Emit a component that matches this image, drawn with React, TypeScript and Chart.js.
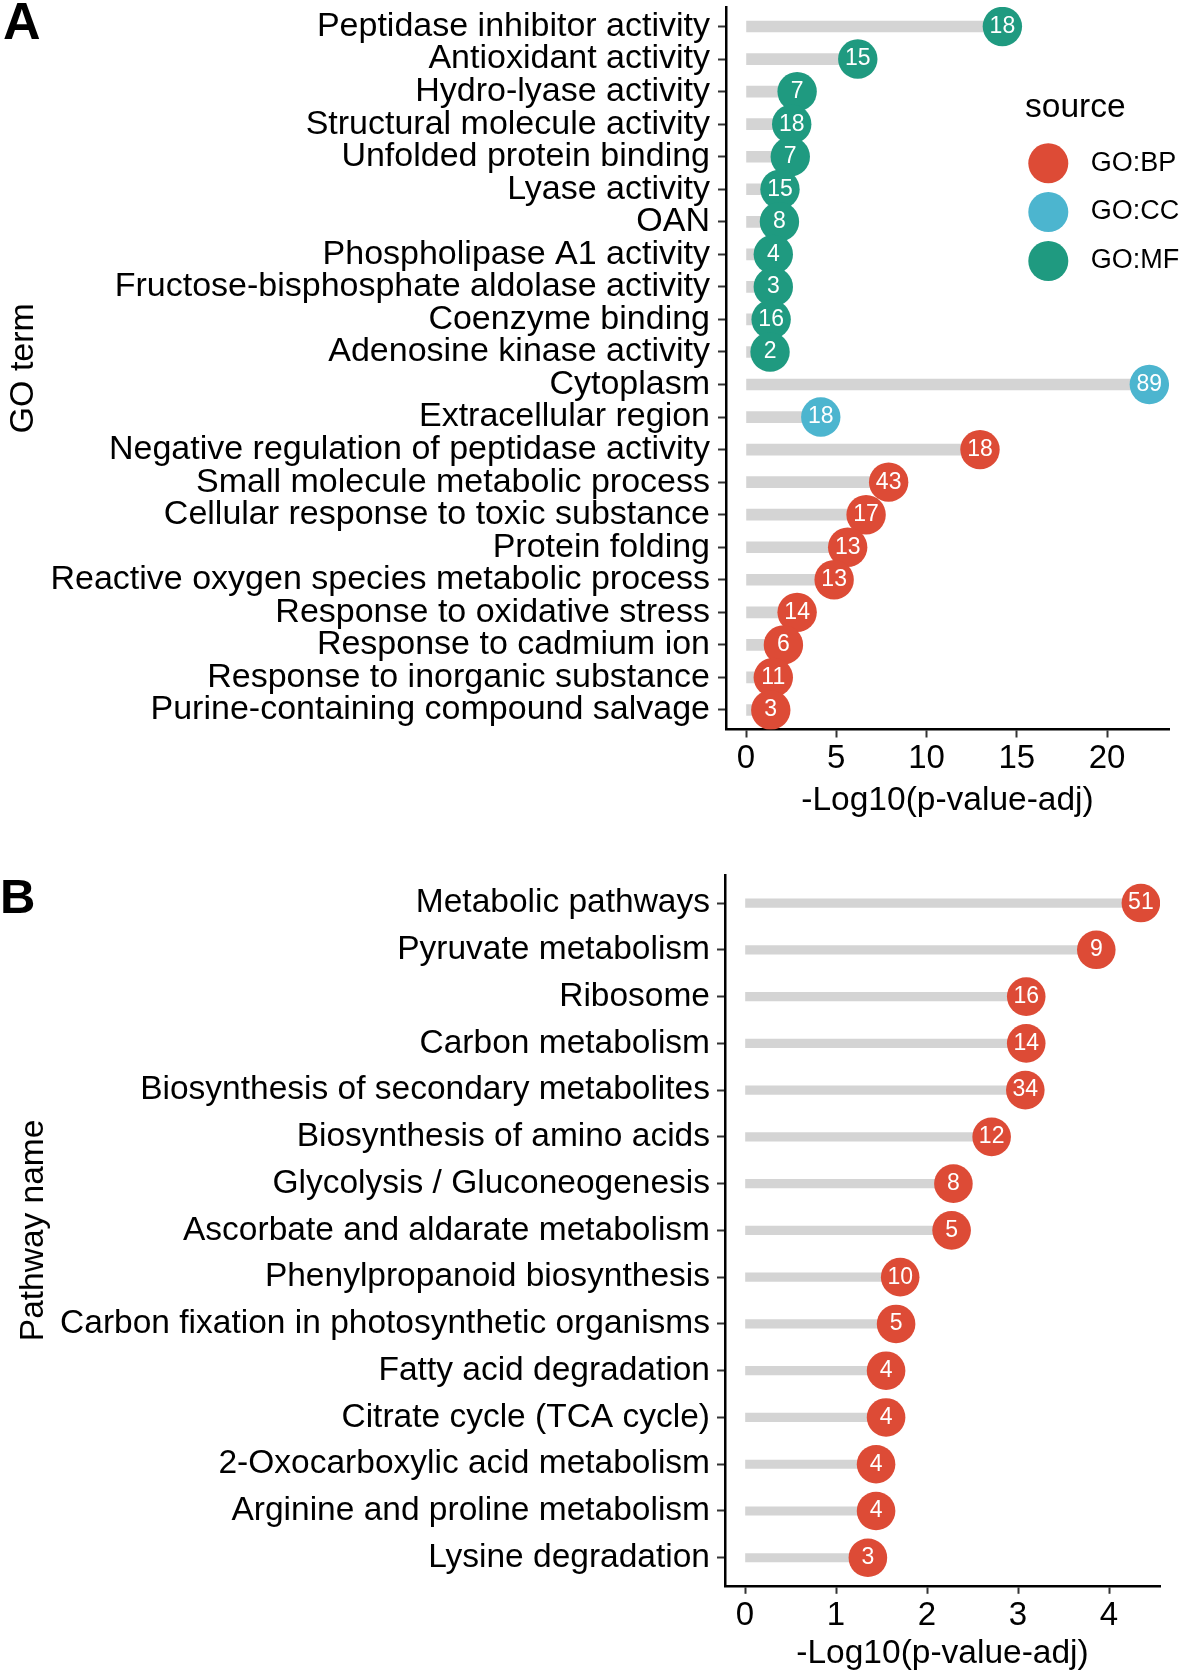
import React, { useEffect, useRef } from "react";
import { Chart, registerables } from "chart.js";

Chart.register(...registerables);

const FONT = '"Liberation Sans", Arial, Helvetica, sans-serif';

// ---------- Panel A: GO terms ----------
const goTerms = [
  "Peptidase inhibitor activity",
  "Antioxidant activity",
  "Hydro-lyase activity",
  "Structural molecule activity",
  "Unfolded protein binding",
  "Lyase activity",
  "OAN",
  "Phospholipase A1 activity",
  "Fructose-bisphosphate aldolase activity",
  "Coenzyme binding",
  "Adenosine kinase activity",
  "Cytoplasm",
  "Extracellular region",
  "Negative regulation of peptidase activity",
  "Small molecule metabolic process",
  "Cellular response to toxic substance",
  "Protein folding",
  "Reactive oxygen species metabolic process",
  "Response to oxidative stress",
  "Response to cadmium ion",
  "Response to inorganic substance",
  "Purine-containing compound salvage",
];
const goValues = [
  14.2, 6.19, 2.83, 2.53, 2.45, 1.88, 1.85, 1.51, 1.51, 1.39, 1.33,
  22.34, 4.14,
  12.96, 7.9, 6.65, 5.63, 4.88, 2.83, 2.07, 1.51, 1.37,
];
const goCounts = [18, 15, 7, 18, 7, 15, 8, 4, 3, 16, 2, 89, 18, 18, 43, 17, 13, 13, 14, 6, 11, 3];
const goSources = [
  "GO:MF", "GO:MF", "GO:MF", "GO:MF", "GO:MF", "GO:MF", "GO:MF", "GO:MF", "GO:MF", "GO:MF", "GO:MF",
  "GO:CC", "GO:CC",
  "GO:BP", "GO:BP", "GO:BP", "GO:BP", "GO:BP", "GO:BP", "GO:BP", "GO:BP", "GO:BP",
];
const goXTicks = [0, 5, 10, 15, 20];

// ---------- Panel B: KEGG pathways ----------
const pathwayNames = [
  "Metabolic pathways",
  "Pyruvate metabolism",
  "Ribosome",
  "Carbon metabolism",
  "Biosynthesis of secondary metabolites",
  "Biosynthesis of amino acids",
  "Glycolysis / Gluconeogenesis",
  "Ascorbate and aldarate metabolism",
  "Phenylpropanoid biosynthesis",
  "Carbon fixation in photosynthetic organisms",
  "Fatty acid degradation",
  "Citrate cycle (TCA cycle)",
  "2-Oxocarboxylic acid metabolism",
  "Arginine and proline metabolism",
  "Lysine degradation",
];
const pathwayValues = [4.35, 3.86, 3.09, 3.09, 3.08, 2.71, 2.29, 2.27, 1.705, 1.66, 1.55, 1.55, 1.44, 1.44, 1.35];
const pathwayCounts = [51, 9, 16, 14, 34, 12, 8, 5, 10, 5, 4, 4, 4, 4, 3];
const pathwaySources = pathwayNames.map(() => "GO:BP");
const pathwayXTicks = [0, 1, 2, 3, 4];

const sourceNames = ["GO:BP", "GO:CC", "GO:MF"];
const sourceColors: Record<string, string> = {
  "GO:BP": "#DD4B36",
  "GO:CC": "#4CB5CF",
  "GO:MF": "#1F9A80",
};

const xTitle = "-Log10(p-value-adj)";

type PanelSpec = {
  top: number;
  height: number;
  names: string[];
  values: number[];
  counts: number[];
  sources: string[];
  xTicks: number[];
  xMin: number;
  xMax: number;
  yTitle: string;
  yTitlePad: number;
  xTitlePad: number;
  pad: { top: number; right: number; left: number; bottom: number };
  yWidth: number;
  xHeight: number;
  yTickPad: number;
  yFont: number;
  segThickness: number;
  radius: number;
  letter: string;
  letterSize: number;
  letterX: number;
  letterY: number;
  legend: boolean;
};

const panelA: PanelSpec = {
  top: 0,
  height: 822,
  names: goTerms,
  values: goValues,
  counts: goCounts,
  sources: goSources,
  xTicks: goXTicks,
  xMin: -1.11,
  xMax: 23.43,
  yTitle: "GO term",
  yTitlePad: 3,
  xTitlePad: 1,
  pad: { top: 7, right: 11, left: 0, bottom: 0 },
  yWidth: 726,
  xHeight: 92.5,
  yTickPad: 8,
  yFont: 34,
  segThickness: 11,
  radius: 19.7,
  letter: "A",
  letterSize: 52,
  letterX: 3,
  letterY: 39,
  legend: true,
};

const panelB: PanelSpec = {
  top: 822,
  height: 852,
  names: pathwayNames,
  values: pathwayValues,
  counts: pathwayCounts,
  sources: pathwaySources,
  xTicks: pathwayXTicks,
  xMin: -0.22,
  xMax: 4.56,
  yTitle: "Pathway name",
  yTitlePad: 14,
  xTitlePad: 0,
  pad: { top: 53, right: 20, left: 0, bottom: 0 },
  yWidth: 725,
  xHeight: 88.2,
  yTickPad: 7,
  yFont: 33.5,
  segThickness: 8.5,
  radius: 19.3,
  letter: "B",
  letterSize: 49,
  letterX: 0,
  letterY: 91,
  legend: false,
};

const lollipopLabels = {
  id: "lollipopLabels",
  afterDatasetsDraw(chart: any, _args: any, opts: any) {
    const meta = chart.getDatasetMeta(1);
    const ctx = chart.ctx;
    ctx.save();
    ctx.fillStyle = "#ffffff";
    ctx.font = `23px ${FONT}`;
    ctx.textAlign = "center";
    ctx.textBaseline = "middle";
    meta.data.forEach((pt: any, i: number) => {
      ctx.fillText(String(opts.counts[i]), pt.x, pt.y);
    });
    ctx.restore();
  },
};

const panelDecor = {
  id: "panelDecor",
  afterDraw(chart: any, _args: any, opts: any) {
    const ctx = chart.ctx;
    ctx.save();
    ctx.fillStyle = "#000";
    ctx.textAlign = "left";
    ctx.textBaseline = "alphabetic";
    ctx.font = `bold ${opts.letterSize}px ${FONT}`;
    ctx.fillText(opts.letter, opts.letterX, opts.letterY);
    if (opts.legend) {
      ctx.font = `33.5px ${FONT}`;
      ctx.fillText("source", 1025, 117);
      const ys = [163.3, 212, 261];
      ctx.textBaseline = "middle";
      ctx.font = `27px ${FONT}`;
      sourceNames.forEach((s, i) => {
        ctx.beginPath();
        ctx.fillStyle = sourceColors[s];
        ctx.arc(1048.3, ys[i], 20, 0, Math.PI * 2);
        ctx.fill();
        ctx.fillStyle = "#000";
        ctx.fillText(s, 1090.7, ys[i]);
      });
    }
    ctx.restore();
  },
};

function buildConfig(spec: PanelSpec): any {
  const pts = spec.values.map((v, i) => ({ x: v, y: i }));
  const colors = spec.sources.map((s) => sourceColors[s]);
  const n = spec.names.length;
  return {
    type: "scatter",
    data: {
      datasets: [
        {
          type: "bar",
          indexAxis: "y",
          data: pts,
          backgroundColor: "#D4D4D4",
          borderWidth: 0,
          barThickness: spec.segThickness,
          order: 2,
        },
        {
          type: "scatter",
          data: pts,
          backgroundColor: colors,
          borderColor: colors,
          borderWidth: 0,
          pointRadius: spec.radius,
          pointHoverRadius: spec.radius,
          pointBorderWidth: 0,
          order: 1,
        },
      ],
    },
    options: {
      responsive: false,
      animation: false,
      events: [],
      layout: { padding: spec.pad, autoPadding: false },
      plugins: {
        legend: { display: false },
        tooltip: { enabled: false },
        lollipopLabels: { counts: spec.counts },
        panelDecor: {
          letter: spec.letter,
          letterSize: spec.letterSize,
          letterX: spec.letterX,
          letterY: spec.letterY,
          legend: spec.legend,
        },
      },
      scales: {
        x: {
          type: "linear",
          position: "bottom",
          min: spec.xMin,
          max: spec.xMax,
          offset: false,
          afterBuildTicks: (scale: any) => {
            scale.ticks = spec.xTicks.map((v) => ({ value: v }));
          },
          afterFit: (scale: any) => {
            scale.height = spec.xHeight;
            scale.paddingLeft = 0;
            scale.paddingRight = 0;
          },
          grid: {
            offset: false,
            drawOnChartArea: false,
            drawTicks: true,
            tickLength: 8,
            tickWidth: 2,
            tickColor: "#333333",
            color: "#333333",
          },
          border: { display: true, color: "#000", width: 2.5 },
          ticks: {
            autoSkip: false,
            maxRotation: 0,
            minRotation: 0,
            padding: 2,
            color: "#000",
            font: { family: FONT, size: 33 },
            callback: (v: any) => String(v),
          },
          title: {
            display: true,
            text: xTitle,
            color: "#000",
            font: { family: FONT, size: 33.5 },
            padding: { top: 0, bottom: spec.xTitlePad },
          },
        },
        y: {
          type: "linear",
          position: "left",
          reverse: true,
          min: -0.6,
          max: n - 1 + 0.6,
          offset: false,
          afterBuildTicks: (scale: any) => {
            scale.ticks = spec.names.map((_, i) => ({ value: i }));
          },
          afterFit: (scale: any) => {
            scale.width = spec.yWidth;
            scale.paddingTop = 0;
            scale.paddingBottom = 0;
          },
          grid: {
            offset: false,
            drawOnChartArea: false,
            drawTicks: true,
            tickLength: 8,
            tickWidth: 2,
            tickColor: "#333333",
            color: "#333333",
          },
          border: { display: true, color: "#000", width: 2.5 },
          ticks: {
            autoSkip: false,
            padding: spec.yTickPad,
            color: "#000",
            font: { family: FONT, size: spec.yFont },
            callback: (v: any) => spec.names[v] ?? "",
          },
          title: {
            display: true,
            text: spec.yTitle,
            color: "#000",
            font: { family: FONT, size: spec.yFont },
            padding: { top: spec.yTitlePad, bottom: 0 },
          },
        },
      },
    },
    plugins: [lollipopLabels, panelDecor],
  };
}

function Panel({ spec }: { spec: PanelSpec }) {
  const ref = useRef<HTMLCanvasElement>(null);
  useEffect(() => {
    if (!ref.current) return;
    const chart = new Chart(ref.current, buildConfig(spec));
    return () => chart.destroy();
  }, [spec]);
  return (
    <canvas
      ref={ref}
      width={1180}
      height={spec.height}
      style={{
        position: "absolute",
        left: 0,
        top: spec.top,
        width: 1180,
        height: spec.height,
        display: "block",
      }}
    />
  );
}

export default function App() {
  return (
    <div
      style={{
        position: "absolute",
        left: 0,
        top: 0,
        width: 1180,
        height: 1674,
        background: "#ffffff",
        overflow: "hidden",
      }}
    >
      <Panel spec={panelA} />
      <Panel spec={panelB} />
    </div>
  );
}
